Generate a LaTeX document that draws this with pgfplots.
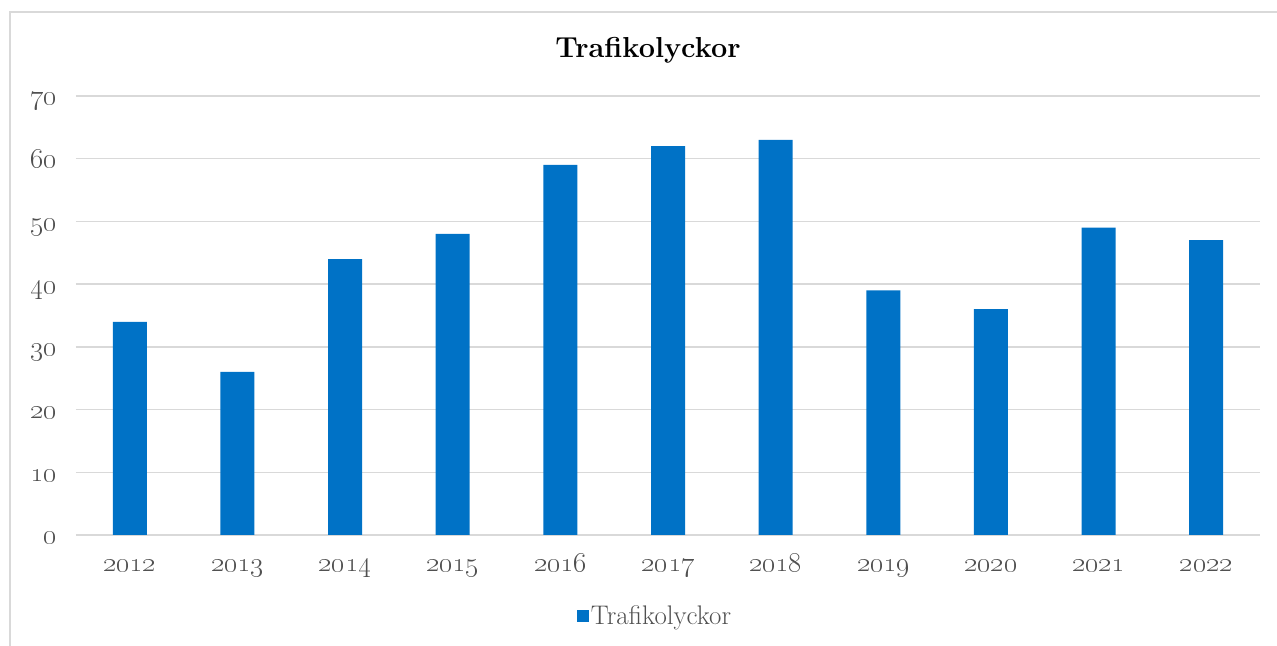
\RequirePackage{fix-cm}
\documentclass[border=0pt]{standalone}
\usepackage{pgfplots}
\pgfplotsset{compat=1.18}
\definecolor{barblue}{RGB}{0,114,198}
\definecolor{gridgray}{RGB}{217,217,217}
\definecolor{txtgray}{RGB}{80,80,80}
\newcommand{\os}[1]{\oldstylenums{#1}}
\begin{document}
\begin{tikzpicture}[x=1bp,y=1bp]
\useasboundingbox (-76,-111) rectangle (1201,535);
\draw[gridgray, line width=1.5bp] (-66,-120) -- (-66,523) -- (1210,523);
\node[font=\bfseries\fontsize{29}{29}\selectfont, text=black] at (572,485) {Trafikolyckor};
\begin{axis}[
  at={(0,0)}, anchor=south west,
  scale only axis, width=1184bp, height=439bp,
  xmin=-0.5, xmax=10.5, ymin=0, ymax=70,
  xtick={0,...,10},
  xticklabels={\os{2012},\os{2013},\os{2014},\os{2015},\os{2016},\os{2017},\os{2018},\os{2019},\os{2020},\os{2021},\os{2022}},
  ytick={0,10,...,70},
  yticklabels={\os{0},\os{10},\os{20},\os{30},\os{40},\os{50},\os{60},\os{70}},
  major tick length=0pt,
  axis line style={draw=none},
  ymajorgrids,
  grid style={gridgray, line width=1.5bp},
  ticklabel style={font=\fontsize{28}{28}\selectfont, text=txtgray, inner sep=0pt},
  xticklabel style={anchor=base, yshift=-37bp},
  yticklabel style={anchor=base east, xshift=-19bp, yshift=-9bp},
  legend style={at={(0.5,-0.185)}, anchor=center, xshift=-13bp, draw=none, font=\fontsize{27}{27}\selectfont, text=txtgray, legend columns=1, inner sep=0pt},
  legend image code/.code={\fill[barblue] (0bp,-6bp) rectangle (12bp,6bp);},
  legend cell align=left,
]
\addplot[ybar, bar width=34bp, fill=barblue, draw=none] coordinates {
(0,34) (1,26) (2,44) (3,48) (4,59) (5,62) (6,63) (7,39) (8,36) (9,49) (10,47)};
\addlegendentry{Trafikolyckor}
\end{axis}
\end{tikzpicture}
\end{document}
